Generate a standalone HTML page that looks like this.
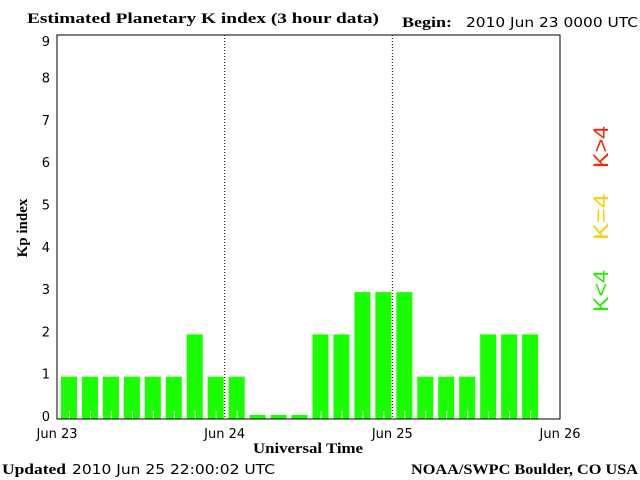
<!DOCTYPE html>
<html><head><meta charset="utf-8"><style>
body{margin:0;background:#fff;width:640px;height:480px;overflow:hidden}
svg{display:block}
.s{font-family:"DejaVu Sans","Liberation Sans",sans-serif;font-size:13px}
.b{font-family:"Liberation Serif",serif;font-weight:bold;font-size:15px}
.l{font-family:"Liberation Sans",sans-serif;font-size:21px}
</style></head><body>
<svg id="c" width="640" height="480">
<text x="27" y="23" class="b" textLength="352" lengthAdjust="spacingAndGlyphs">Estimated Planetary K index (3 hour data)</text>
<text x="402" y="27" class="b" textLength="50" lengthAdjust="spacingAndGlyphs">Begin:</text>
<text x="466" y="27" class="s" textLength="172" lengthAdjust="spacingAndGlyphs">2010 Jun 23 0000 UTC</text>
<g id="bars"></g>
<g id="yticks"></g>
<g id="xticks"></g>
<rect x="57" y="35" width="503" height="384" fill="none" stroke="#000" stroke-width="1"/>
<text x="253" y="453" class="b" textLength="110" lengthAdjust="spacingAndGlyphs">Universal Time</text>
<text transform="translate(27,228) rotate(-90)" class="b" text-anchor="middle">Kp index</text>
<text transform="translate(608,291) rotate(-90)" class="l" fill="#22ee00" text-anchor="middle" textLength="42" lengthAdjust="spacingAndGlyphs">K&lt;4</text>
<text transform="translate(608,217) rotate(-90)" class="l" fill="#ffcc00" text-anchor="middle" textLength="46" lengthAdjust="spacingAndGlyphs">K=4</text>
<text transform="translate(608,147) rotate(-90)" class="l" fill="#ff2200" text-anchor="middle" textLength="42" lengthAdjust="spacingAndGlyphs">K&gt;4</text>
<text x="2" y="474" class="b" textLength="64" lengthAdjust="spacingAndGlyphs">Updated</text>
<text x="72" y="474" class="s" textLength="203" lengthAdjust="spacingAndGlyphs">2010 Jun 25 22:00:02 UTC</text>
<text x="411" y="474" class="b" textLength="227" lengthAdjust="spacingAndGlyphs">NOAA/SWPC Boulder, CO USA</text>
</svg>
<script>
const kpValues=[1,1,1,1,1,1,2,1, 1,0,0,0,2,2,3,3, 3,1,1,1,2,2,2];
const dayLabels=["Jun 23","Jun 24","Jun 25","Jun 26"];
const yTicks=[0,1,2,3,4,5,6,7,8,9];
const NS="http://www.w3.org/2000/svg";
const x0=57,x1=560,y0=419,unit=42.3;
const slot=(x1-x0)/24;
const xs=i=>x0+i*slot;
const ys=v=>y0-v*unit;
function mk(t,a){const e=document.createElementNS(NS,t);for(const k in a)e.setAttribute(k,a[k]);return e;}
const bars=document.getElementById('bars');
kpValues.forEach((v,i)=>{
  const top=Math.min(ys(v),y0-4);
  const col=v>4?'#ff2200':(v===4?'#ffcc00':'#1aff00');
  const r=mk('rect',{x:xs(i)+4,y:top,width:16,height:y0-top,fill:col});
  
  
  bars.appendChild(r);
  if(v>0){const w=mk('line',{x1:xs(i)+12.5,x2:xs(i)+12.5,y1:y0-8,y2:y0,stroke:'#fff','stroke-width':1});bars.appendChild(w);}
});
const yt=document.getElementById('yticks');
yTicks.forEach(t=>{
  const tx=mk('text',{x:50,y:Math.max(ys(t)+2,46),class:'s','text-anchor':'end'});
  tx.textContent=t;
  
  
  yt.appendChild(tx);
});
const xt=document.getElementById('xticks');
dayLabels.forEach((d,i)=>{
  const x=xs(i*8);
  const tx=mk('text',{x:x,y:438,class:'s','text-anchor':'middle'});
  tx.textContent=d;
  
  
  xt.appendChild(tx);
  if(i>0&&i<3){
    const l=mk('line',{x1:x,x2:x,y1:35,y2:419,stroke:'#000','stroke-dasharray':'1,2'});
    
    
    xt.appendChild(l);
  }
});
</script>
</body></html>
